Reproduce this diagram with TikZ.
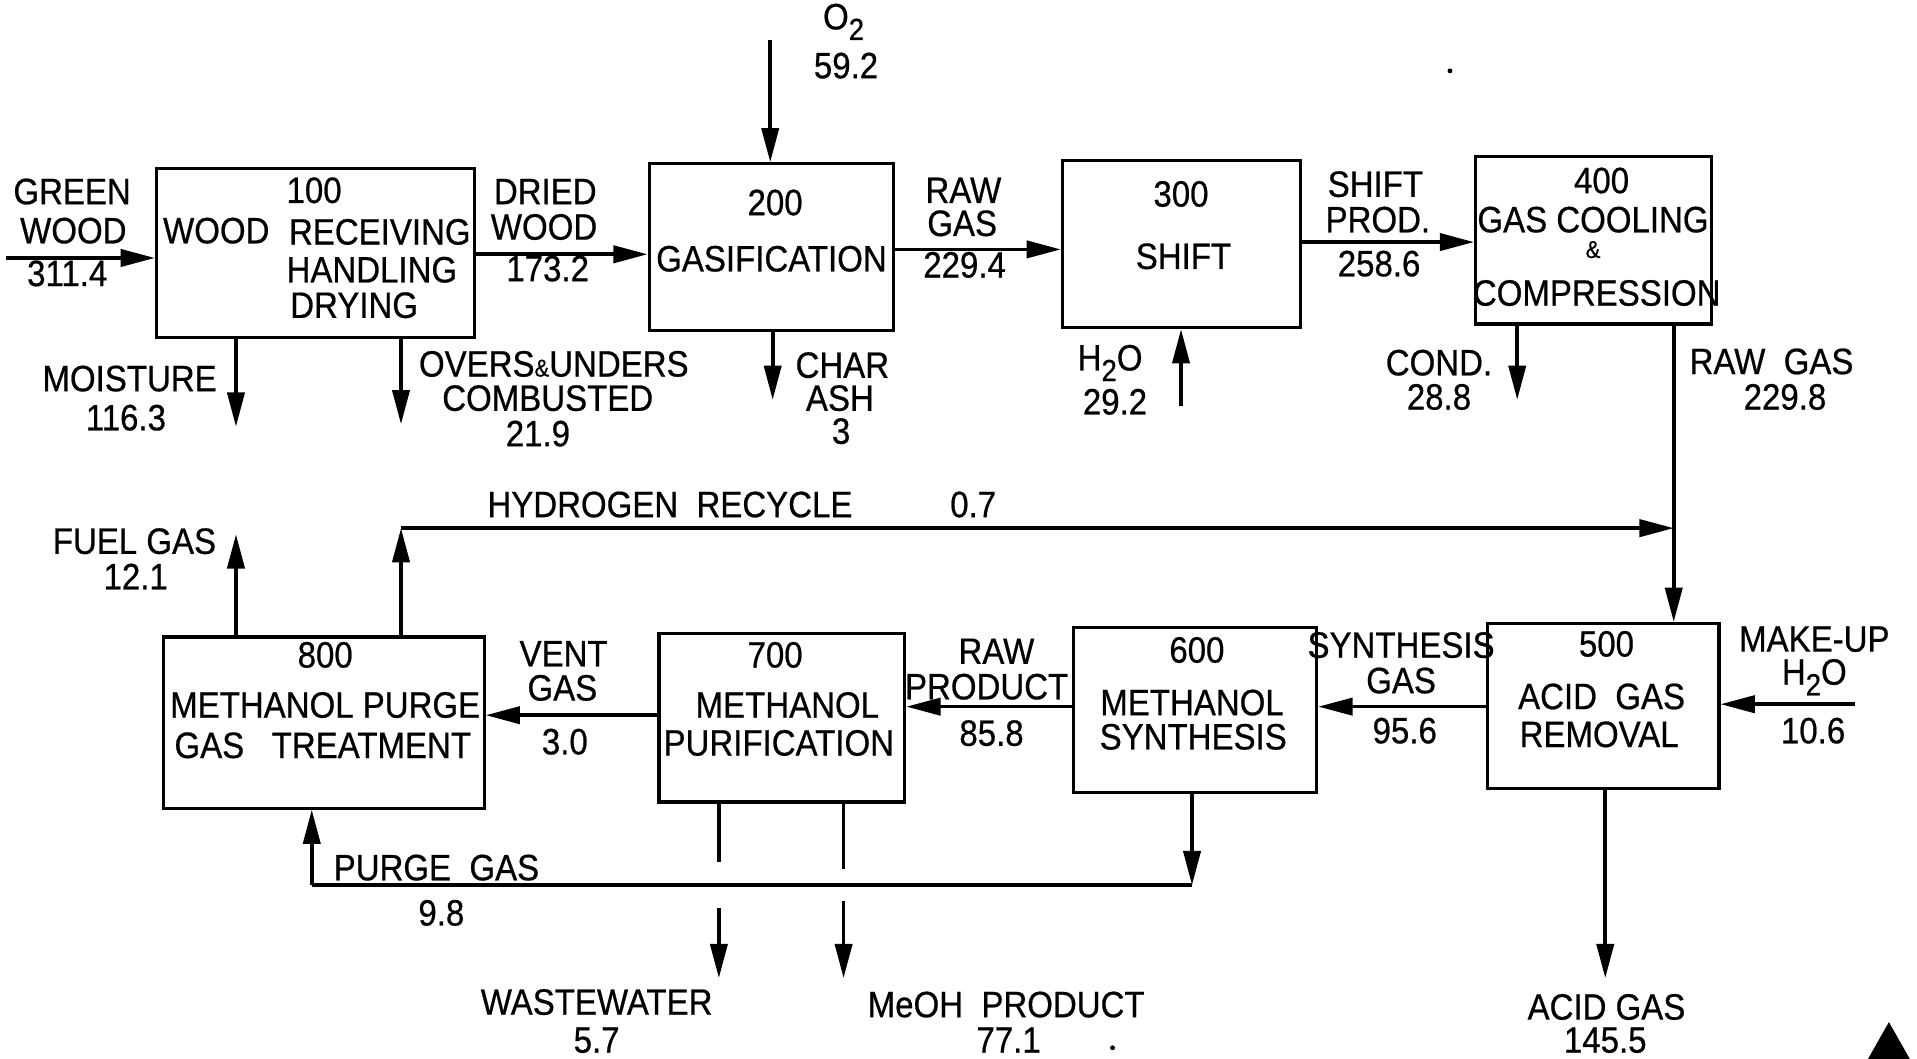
\documentclass[tikz,border=0pt]{standalone}
\usepackage{fontspec}
\setmainfont[FakeStretch=0.9,FakeBold=0.6]{Liberation Sans}
\usetikzlibrary{arrows.meta,fit}
\newcommand{\lowsub}[1]{\raisebox{-0.55ex}{\fontsize{12.5}{12.5}\selectfont #1}}
\newcommand{\smallamp}{{\fontsize{10}{10}\selectfont\&}}
\begin{document}
\begin{tikzpicture}[x=0.5pt,y=-0.5pt,
  box/.style={draw, line width=1.3pt, inner sep=0pt},
  flow/.style={line width=1.5pt, -{Triangle[length=14pt,width=7pt]}},
  pipe/.style={line width=1.5pt},
  lbl/.style={inner sep=0pt, anchor=base, font=\fontsize{15}{17}\selectfont},
  lblw/.style={lbl, anchor=base west}]

\useasboundingbox (0,0) rectangle (1568,866);

% ---------- boxes ----------
\node[box, fit={(128,138) (388,276)}] (b100) {};
\node[box, fit={(531,134) (731,270)}] (b200) {};
\node[box, fit={(869,131) (1064,268)}] (b300) {};
\node[box, fit={(1207,128) (1400,265)}] (b400) {};
\node[box, fit={(1217,510) (1406,645)}] (b500) {};
\node[box, fit={(878,513) (1077,648)}] (b600) {};
\node[box, fit={(539,518) (740,656)}] (b700) {};
\node[box, fit={(134,521) (396,661)}] (b800) {};

% ---------- box texts ----------
\node[lblw] (t100) at (234,166) {100};
\node[lblw] (t100a) at (133,199) {WOOD};
\node[lblw] (t100b) at (236,200) {RECEIVING};
\node[lblw] (t100c) at (234,231) {HANDLING};
\node[lblw] (t100d) at (237,260) {DRYING};

\node[lbl] (t200) at (634,176) {200};
\node[lbl] (t200a) at (631,222) {GASIFICATION};

\node[lbl] (t300) at (966,169) {300};
\node[lbl] (t300a) at (968,220) {SHIFT};

\node[lbl] (t400) at (1310,158) {400};
\node[lbl] (t400a) at (1303,190) {GAS COOLING};
\node[lbl] (t400b) at (1303,211) {\smallamp};
\node[lbl] (t400c) at (1306,250) {COMPRESSION};

\node[lbl] (t500) at (1314,537) {500};
\node[lbl] (t500a) at (1310,580) {ACID\ \ GAS};
\node[lbl] (t500b) at (1308,611) {REMOVAL};

\node[lbl] (t600) at (979,542) {600};
\node[lbl] (t600a) at (975,585) {METHANOL};
\node[lbl] (t600b) at (976,613) {SYNTHESIS};

\node[lbl] (t700) at (634,546) {700};
\node[lbl] (t700a) at (644,587) {METHANOL};
\node[lbl] (t700b) at (637,618) {PURIFICATION};

\node[lbl] (t800) at (266,546) {800};
\node[lbl] (t800a) at (266,587) {METHANOL PURGE};
\node[lbl] (t800b) at (264,620) {GAS\ \ \ TREATMENT};

% ---------- coordinates ----------
\coordinate (gw) at (5,211);
\coordinate (dw) at (0,208);
\coordinate (o2) at (630,33);
\coordinate (rg) at (0,204);
\coordinate (sp) at (0,198);
\coordinate (h2o) at (966,332);
\coordinate (mo) at (193,349);
\coordinate (ov) at (328,347);
\coordinate (ch) at (632,327);
\coordinate (cd) at (1241,327);
\coordinate (rgv) at (1369,0);
\coordinate (hr) at (328,432);
\coordinate (fg) at (193,437);
\coordinate (mu) at (1517,576);
\coordinate (sg) at (0,578);
\coordinate (vg) at (0,585);
\coordinate (pgR) at (975,724);
\coordinate (pgL) at (255,724);
\coordinate (ww1) at (588,705);
\coordinate (ww2) at (588,743);
\coordinate (ww) at (588,800);
\coordinate (me1) at (690,711);
\coordinate (me2) at (690,737);
\coordinate (me) at (690,800);
\coordinate (ag) at (1313,800);

% ---------- connectors ----------
\draw[flow] (gw) -- (gw -| b100.west);
\draw[flow] (dw -| b100.east) -- (dw -| b200.west);
\draw[flow] (o2) -- (o2 |- b200.north);
\draw[flow] (rg -| b200.east) -- (rg -| b300.west);
\draw[flow] (sp -| b300.east) -- (sp -| b400.west);
\draw[flow] (h2o) -- (h2o |- b300.south);
\draw[flow] (mo |- b100.south) -- (mo);
\draw[flow] (ov |- b100.south) -- (ov);
\draw[flow] (ch |- b200.south) -- (ch);
\draw[flow] (cd |- b400.south) -- (cd);
\draw[flow] (rgv |- b400.south) -- (rgv |- b500.north);
\draw[flow] (hr |- b800.north) -- (hr);
\draw[flow] (hr) -- (hr -| rgv);
\draw[flow] (fg |- b800.north) -- (fg);
\draw[flow] (mu) -- (mu -| b500.east);
\draw[flow] (sg -| b500.west) -- (sg -| b600.east);
\draw[flow] (sg -| b600.west) -- (sg -| b700.east);
\draw[flow] (vg -| b700.west) -- (vg -| b800.east);
\draw[flow] (pgR |- b600.south) -- (pgR);
\draw[pipe] (pgR) -- (pgL);
\draw[flow] (pgL) -- (pgL |- b800.south);
\draw[pipe] (ww1 |- b700.south) -- (ww1);
\draw[flow] (ww2) -- (ww);
\draw[pipe] (me1 |- b700.south) -- (me1);
\draw[flow] (me2) -- (me);
\draw[flow] (ag |- b500.south) -- (ag);

% ---------- stream labels ----------
\node[lbl] (lgw1) at (59,167) {GREEN};
\node[lbl] (lgw2) at (60,199) {WOOD};
\node[lbl] (lgw3) at (55,234) {311.4};

\node[lbl] (ldw1) at (446,167) {DRIED};
\node[lbl] (ldw2) at (445,196) {WOOD};
\node[lbl] (ldw3) at (448,230) {173.2};

\node[lbl] (lmo1) at (106,320) {MOISTURE};
\node[lbl] (lmo2) at (103,352) {116.3};

\node[lbl] (lov1) at (453,308) {OVERS\smallamp UNDERS};
\node[lbl] (lov2) at (448,336) {COMBUSTED};
\node[lbl] (lov3) at (440,365) {21.9};

\node[lbl] (lo21) at (690,24) {O\lowsub{2}};
\node[lbl] (lo22) at (692,64) {59.2};

\node[lbl] (lrg1) at (788,166) {RAW};
\node[lbl] (lrg2) at (787,193) {GAS};
\node[lbl] (lrg3) at (789,227) {229.4};

\node[lbl] (lh1) at (908,303) {H\lowsub{2}O};
\node[lbl] (lh2) at (912,339) {29.2};

\node[lbl] (lch1) at (689,309) {CHAR};
\node[lbl] (lch2) at (687,336) {ASH};
\node[lbl] (lch3) at (688,363) {3};

\node[lbl] (lsp1) at (1125,161) {SHIFT};
\node[lbl] (lsp2) at (1127,190) {PROD.};
\node[lbl] (lsp3) at (1128,226) {258.6};

\node[lbl] (lcd1) at (1177,307) {COND.};
\node[lbl] (lcd2) at (1177,335) {28.8};

\node[lbl] (lrv1) at (1449,306) {RAW\ \ GAS};
\node[lbl] (lrv2) at (1460,335) {229.8};

\node[lbl] (lhr1) at (548,423) {HYDROGEN\ \ RECYCLE};
\node[lbl] (lhr2) at (796,423) {0.7};

\node[lbl] (lfg1) at (110,453) {FUEL GAS};
\node[lbl] (lfg2) at (111,482) {12.1};

\node[lbl] (lvg1) at (461,545) {VENT};
\node[lbl] (lvg2) at (460,573) {GAS};
\node[lbl] (lvg3) at (462,617) {3.0};

\node[lbl] (lrp1) at (815,543) {RAW};
\node[lbl] (lrp2) at (807,572) {PRODUCT};
\node[lbl] (lrp3) at (811,610) {85.8};

\node[lbl] (lsg1) at (1146,538) {SYNTHESIS};
\node[lbl] (lsg2) at (1146,567) {GAS};
\node[lbl] (lsg3) at (1149,608) {95.6};

\node[lbl] (lmu1) at (1484,533) {MAKE-UP};
\node[lbl] (lmu2) at (1484,560) {H\lowsub{2}O};
\node[lbl] (lmu3) at (1483,608) {10.6};

\node[lbl] (lpg1) at (357,720) {PURGE\ \ GAS};
\node[lbl] (lpg2) at (361,757) {9.8};

\node[lbl] (lww1) at (488,830) {WASTEWATER};
\node[lbl] (lww2) at (488,861) {5.7};

\node[lbl] (lme1) at (823,832) {MeOH\ \ PRODUCT};
\node[lbl] (lme2) at (825,861) {77.1};

\node[lbl] (lag1) at (1314,834) {ACID GAS};
\node[lbl] (lag2) at (1313,861) {145.5};

% ---------- marks ----------
\fill (1528,866) -- (1545,836) -- (1562,866) -- cycle;
\fill (1186,58) circle (2);
\fill (910,857) circle (2);
\end{tikzpicture}
\end{document}
